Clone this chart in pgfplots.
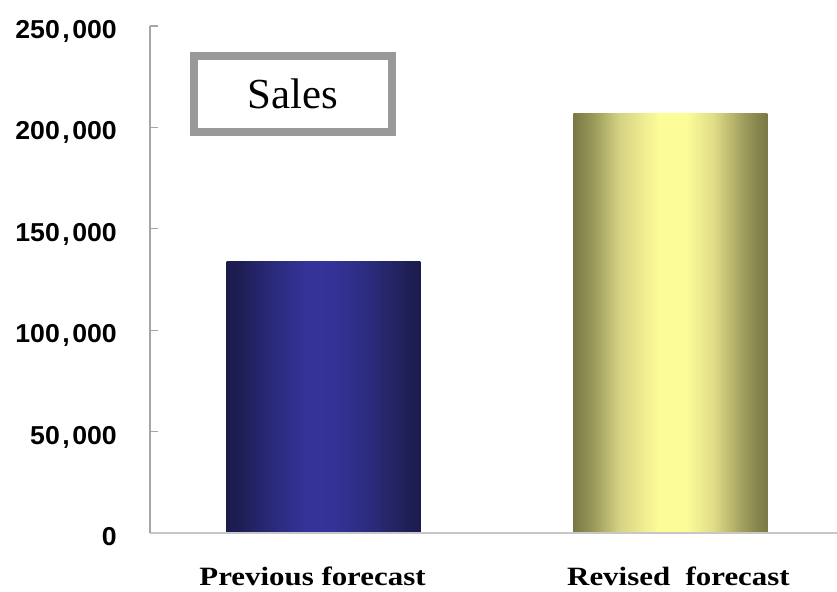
\documentclass[border=0pt]{standalone}
\usepackage{pgfplots}
\pgfplotsset{compat=1.18}
\usepackage{fontspec}
\setmainfont{Liberation Serif}
\newfontfamily\tickfont[FakeStretch=1.03]{Liberation Sans}
\newfontfamily\catfont[FakeStretch=1.17]{Liberation Serif}
\newcommand\cm{\kern2.5bp,\kern2.5bp}

\pgfdeclarehorizontalshading{bluebar}{100bp}{%
  rgb(0bp)=(0.106,0.106,0.302);
  rgb(25bp)=(0.106,0.106,0.302);
  rgb(29bp)=(0.12,0.12,0.34);
  rgb(36bp)=(0.16,0.16,0.47);
  rgb(45bp)=(0.20,0.20,0.60);
  rgb(53bp)=(0.20,0.20,0.59);
  rgb(62bp)=(0.17,0.17,0.49);
  rgb(70bp)=(0.13,0.13,0.36);
  rgb(75bp)=(0.106,0.106,0.302);
  rgb(100bp)=(0.106,0.106,0.302)}
\pgfdeclarehorizontalshading{yellowbar}{100bp}{%
  rgb(0bp)=(0.478,0.471,0.271);
  rgb(25bp)=(0.478,0.471,0.271);
  rgb(30bp)=(0.60,0.60,0.35);
  rgb(37bp)=(0.84,0.83,0.52);
  rgb(42bp)=(0.92,0.91,0.56);
  rgb(47bp)=(0.99,0.99,0.60);
  rgb(54bp)=(0.99,0.99,0.60);
  rgb(61bp)=(0.88,0.87,0.53);
  rgb(68bp)=(0.65,0.64,0.38);
  rgb(72bp)=(0.54,0.53,0.31);
  rgb(75bp)=(0.478,0.471,0.271);
  rgb(100bp)=(0.478,0.471,0.271)}

\begin{document}
\begin{tikzpicture}
\useasboundingbox (0,0) rectangle (837bp,592bp);
\begin{axis}[
  scale only axis,
  width=687bp, height=507bp,
  at={(150bp,59bp)}, anchor=south west,
  xmin=-0.5, xmax=1.48,
  ymin=0, ymax=250000,
  axis x line*=bottom, axis y line*=left,
  x axis line style={draw=black!22, line width=2bp, -},
  y axis line style={draw=black!35, line width=1.3bp, -},
  axis on top,
  tick align=inside,
  major tick length=8bp,
  ytick={0,50000,100000,150000,200000,250000},
  yticklabels={0,{50\cm000},{100\cm000},{150\cm000},{200\cm000},{250\cm000}},
  ytick style={draw=black!35, line width=1.3bp},
  scaled y ticks=false,
  yticklabel style={font=\tickfont\bfseries\fontsize{26}{26}\selectfont,
     anchor=base east, inner sep=0pt, xshift=-33bp, yshift=-12.5bp},
  xtick={0,1},
  xticklabels={\hspace*{-22bp}Previous forecast, \hspace*{16bp}Revised\ \ forecast},
  xtick style={draw=none},
  xticklabel style={font=\catfont\bfseries\fontsize{26.5}{26.5}\selectfont,
     anchor=base, inner sep=0pt, yshift=-52.5bp},
  extra x ticks={0.5},
  extra x tick labels={{}},
  extra x tick style={major tick length=11bp, tick style={draw=black!22, line width=1.3bp}},
]
\addplot[ybar, bar width=0.559, bar shift=0, draw=none, shading=bluebar]
  coordinates {(0,134000)};
\addplot[ybar, bar width=0.559, bar shift=0, draw=none, shading=yellowbar]
  coordinates {(1,207000)};
\node[draw=black!40, line width=8bp, fill=white, minimum width=198bp,
      minimum height=76bp, inner sep=0pt,
      font=\fontsize{43}{43}\selectfont]
  at (rel axis cs:0.208,0.866) {\raisebox{-2bp}{Sales}};
\end{axis}
\end{tikzpicture}
\end{document}
